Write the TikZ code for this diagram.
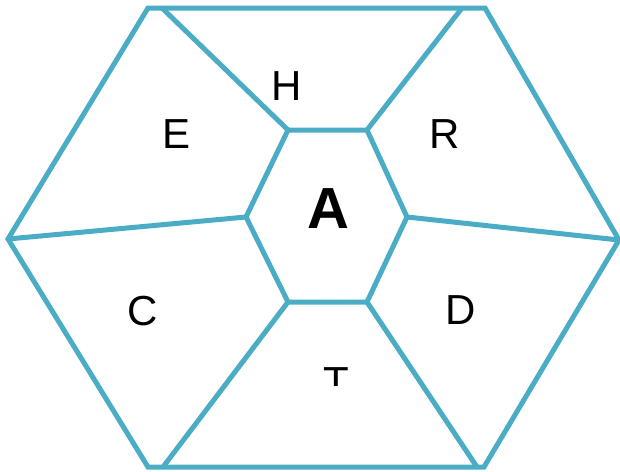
\documentclass[tikz,border=0pt]{standalone}
\usepackage{fontspec}
\setmainfont{Liberation Sans}
\usetikzlibrary{positioning}
\definecolor{hexblue}{RGB}{75,172,198}

\begin{document}
\begin{tikzpicture}[x=1pt, y=-1pt,
		edge/.style={draw=hexblue, line width=5pt, line join=miter},
		lbl/.style={font=\fontsize{42}{42}\selectfont, anchor=base, inner sep=0pt},
		core/.style={font=\fontsize{58}{58}\selectfont\bfseries, anchor=base, inner sep=0pt}]
		\useasboundingbox (0,0) rectangle (620,471);
		% outer hexagon
		\coordinate (o1) at (148,8);
		\coordinate (o2) at (485,8);
		\coordinate (o3) at (619,240);
		\coordinate (o4) at (484,467);
		\coordinate (o5) at (148,467);
		\coordinate (o6) at (8,239);
		% where the spokes meet the outer edges
		\coordinate (t1) at (162,8);
		\coordinate (t2) at (462,8);
		\coordinate (b1) at (163,467);
		\coordinate (b2) at (477,467);
		% inner hexagon
		\coordinate (i1) at (288,130);
		\coordinate (i2) at (367,130);
		\coordinate (i3) at (407,217);
		\coordinate (i4) at (367,302);
		\coordinate (i5) at (288,302);
		\coordinate (i6) at (246,217);
		\draw[edge] (o1) -- (o2) -- (o3) -- (o4) -- (o5) -- (o6) -- cycle;
		\draw[edge] (i1) -- (i2) -- (i3) -- (i4) -- (i5) -- (i6) -- cycle;
		\draw[edge] (i1) -- (t1);
		\draw[edge] (i2) -- (t2);
		\draw[edge] (i3) -- (o3);
		\draw[edge] (i4) -- (b2);
		\draw[edge] (i5) -- (b1);
		\draw[edge] (i6) -- (o6);
		% labels
		\node[core] (a) at (328,228) {A};
		\node[lbl] (h) at (287,100) {H};
		\node[lbl] (e) at (177,148) {E};
		\node[lbl] (r) at (445,148) {R};
		\node[lbl] (c) at (143,325) {C};
		\node[lbl] (d) at (461,324) {D};
		\begin{scope}
			\clip (300,350) rectangle (372,385);
			\node[lbl] (t) at (336,396) {T};
		\end{scope}
	\end{tikzpicture}
\end{document}
